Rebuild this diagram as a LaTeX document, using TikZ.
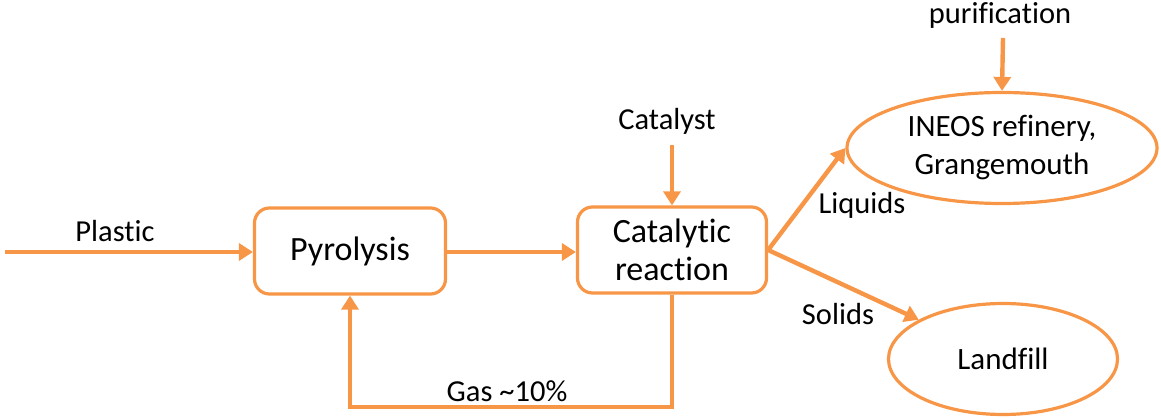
\documentclass[tikz,border=0pt]{standalone}
\usepackage{fontspec}
\setmainfont{Carlito}[Ligatures=NoCommon]
\usetikzlibrary{arrows.meta,shapes.geometric}
\definecolor{flow}{HTML}{F79646}
\tikzset{
  procbox/.style={draw=flow,line width=3.2pt,rounded corners=15pt,minimum width=191pt,minimum height=86pt,inner sep=0pt,align=center,font=\fontsize{34}{38}\selectfont},
  sink/.style={draw=flow,line width=3.2pt,ellipse,inner sep=0pt,align=center,font=\fontsize{31}{38}\selectfont},
  lbl/.style={inner sep=0pt,font=\fontsize{30.5}{36}\selectfont},
  flowarrow/.style={draw=flow,line width=4.4pt,-{Triangle[length=14pt,width=17pt]}},
}
\begin{document}
\begin{tikzpicture}[x=1pt,y=-1pt]
\useasboundingbox (0,0) rectangle (1161,419);
\node[procbox] (pyro) at (350,251) {Pyrolysis};
\node[procbox,minimum width=189pt] (cat) at (672,250) {Catalytic\\reaction};
\node[sink,minimum width=310pt,minimum height=111pt] (ineos) at (1002,148) {INEOS refinery,\\Grangemouth};
\node[sink,minimum width=229pt,minimum height=111pt] (land) at (1003,359) {Landfill};
\coordinate (src) at (5,252);
\coordinate (catin) at (672,145);
\coordinate (purin) at (1003,38);
\coordinate (loop) at (672,407);
\node[lbl] (lplastic) at (115,231) {Plastic};
\node[lbl] (lcatalyst) at (667,121) {Catalyst};
\node[lbl] (lpur) at (1000,15) {purification};
\node[lbl] (lgas) at (507,391) {Gas \textasciitilde10\%};
\node[lbl] (lliq) at (862,205) {Liquids};
\node[lbl] (lsol) at (838,314) {Solids};
\draw[flowarrow] (src) -- (pyro.west |- src);
\draw[flowarrow] (pyro.east |- src) -- (cat.west |- src);
\draw[flowarrow] (catin) -- (cat.north);
\draw[flowarrow] (purin) -- (ineos.north);
\draw[flowarrow] (cat.east) -- (ineos.west);
\draw[flowarrow] (cat.east) -- (land.155);
\draw[flowarrow] (cat.south) -- (loop) -| (pyro.south);
\end{tikzpicture}
\end{document}
